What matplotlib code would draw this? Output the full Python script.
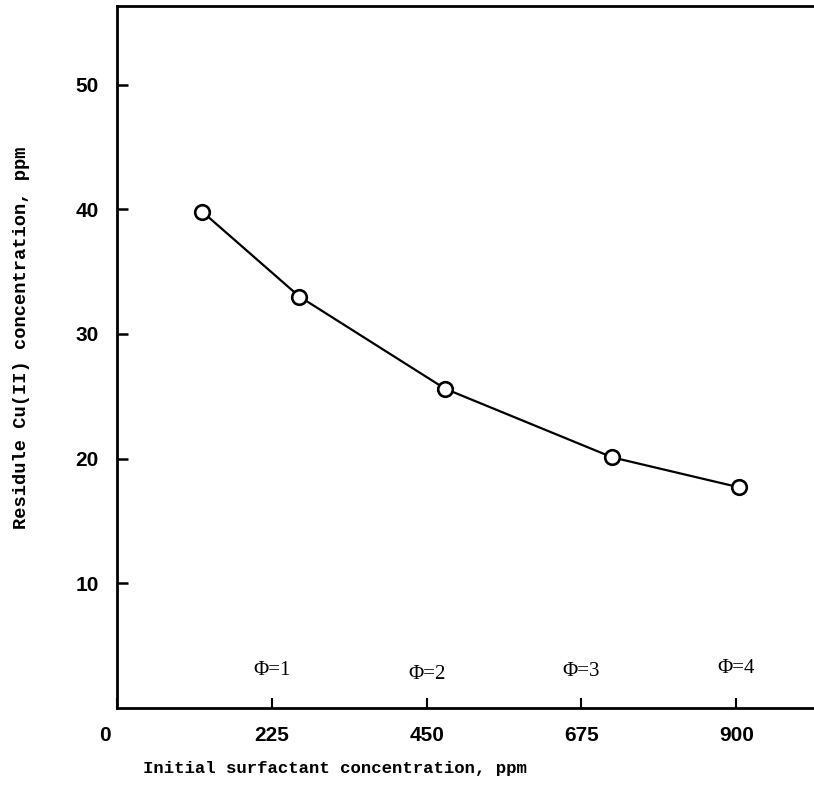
import matplotlib
matplotlib.use("Agg")
import matplotlib.pyplot as plt
import matplotlib.transforms as mtransforms

# values
surfactant = [124, 265, 477, 720, 904]        # initial surfactant, ppm
residue_cu = [39.8, 33.0, 25.6, 20.1, 17.7]   # residue Cu(II), ppm

phi_x = [225, 450, 675, 900]
phi_y = [3.0, 2.65, 2.9, 3.2]
phi_labels = ["\u03a6=1", "\u03a6=2", "\u03a6=3", "\u03a6=4"]

xticks = [0, 225, 450, 675, 900]
yticks = [10, 20, 30, 40, 50]

fig = plt.figure(figsize=(8.14, 8.0), dpi=100)
ax = fig.add_axes([117 / 814, 1 - 708 / 800, 697 / 814, 702 / 800])

ax.plot(surfactant, residue_cu, color="black", lw=1.6, marker="o",
        ms=10.5, mfc="white", mec="black", mew=1.9, zorder=3)

for x, y, s in zip(phi_x, phi_y, phi_labels):
    ax.text(x, y, s, ha="center", va="center", fontsize=15,
            family="Liberation Serif")

ax.set_xlim(0, 1013)
ax.set_ylim(0, 56.3)
ax.set_xticks(xticks)
ax.set_yticks(yticks)
ax.set_xticklabels([str(v) for v in xticks])
ax.set_yticklabels([str(v) for v in yticks])

for sp in ["left", "bottom", "top"]:
    ax.spines[sp].set_linewidth(2.0)
ax.spines["right"].set_visible(False)

ax.tick_params(axis="y", direction="in", length=8, width=1.8, pad=13)
ax.tick_params(axis="x", direction="in", length=7, width=1.5, pad=13)
for lab in ax.get_xticklabels() + ax.get_yticklabels():
    lab.set_family("Liberation Sans")
    lab.set_fontweight("bold")
    lab.set_fontsize(15)

# the origin "0" sits a little left of the axis in the original
zero = ax.get_xticklabels()[0]
zero.set_transform(zero.get_transform() +
                   mtransforms.ScaledTranslation(-12 / 100, 0, fig.dpi_scale_trans))

ax.set_xlabel("Initial surfactant concentration, ppm", family="Liberation Mono",
              fontweight="bold", fontsize=12.5)
ax.set_ylabel("Residule Cu(II) concentration, ppm", family="Liberation Mono",
              fontweight="bold", fontsize=13.5)
ax.xaxis.set_label_coords(0.313, -0.075)
ax.yaxis.set_label_coords(-0.125, 0.528)

fig.savefig("out.png", dpi=100)
